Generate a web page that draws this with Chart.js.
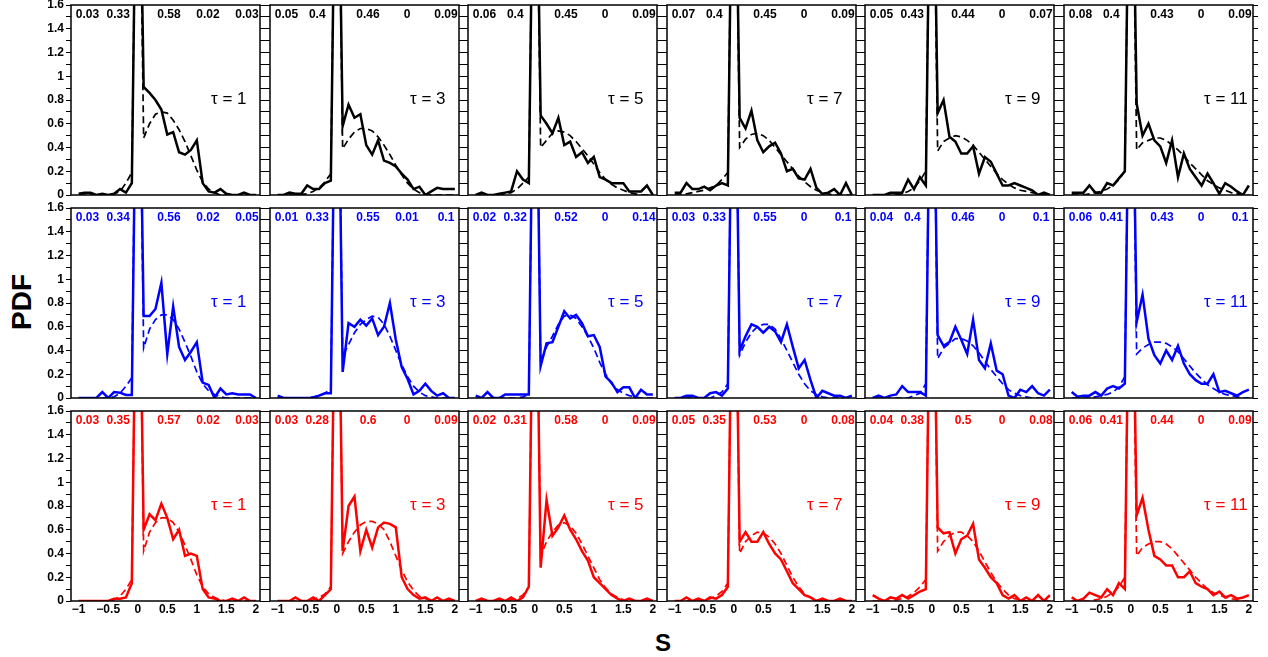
<!DOCTYPE html>
<html>
<head>
<meta charset="utf-8">
<script src="https://cdn.jsdelivr.net/npm/chart.js@4.4.1/dist/chart.umd.min.js"></script>
<style>
  html, body { margin: 0; padding: 0; background: #fff; }
  #wrap { position: relative; width: 1268px; height: 657px; overflow: hidden; font-family: 'Liberation Sans', Arial, sans-serif; }
  #wrap canvas { position: absolute; }
  .axis-title { position: absolute; font-weight: bold; color: #000; line-height: 1; white-space: nowrap; }
  #ylab { left: 22px; top: 302px; font-size: 28px; transform: translate(-50%, -50%) rotate(-90deg); }
  #xlab { left: 663px; top: 643px; font-size: 24px; transform: translate(-50%, -50%); }
</style>
</head>
<body>
<div id="wrap">
  <div class="axis-title" id="ylab">PDF</div>
  <div class="axis-title" id="xlab">S</div>
</div>
<script>
// S grid shared by every panel
const sValues = [-1, -0.9, -0.8, -0.7, -0.6, -0.5, -0.4, -0.3, -0.2, -0.1, 0,
  0.1, 0.2, 0.3, 0.4, 0.5, 0.6, 0.7, 0.8, 0.9, 1,
  1.1, 1.2, 1.3, 1.4, 1.5, 1.6, 1.7, 1.8, 1.9, 2];
const tauValues = [1, 3, 5, 7, 9, 11];

// row 1 (black): measured PDF and fitted curve
const k1 = [0.01,0.02,0.02,0,0.01,0,0.01,0.05,0.02,0.1, 4, 0.91,0.86,0.8,0.72,0.51,0.53,0.36,0.34,0.38,0.46, 0.1,0.03,0.02,0.05,0.01,0,0,0.02,0,0];
const k1fit = [0,0,0,0,0,0,0.01,0.03,0.1,0.19, 4, 0.48,0.6,0.68,0.7,0.69,0.63,0.55,0.45,0.33,0.21, 0.11,0.05,0.02,0,0,0,0,0,0,0];
const k3 = [0,0,0.02,0.01,0.01,0.08,0.05,0.05,0.1,0.12, 4, 0.58,0.76,0.65,0.68,0.42,0.34,0.46,0.29,0.27,0.24, 0.18,0.13,0.05,0.07,0,0.03,0.06,0.05,0.05,0.05];
const k3fit = [0,0,0,0,0.005,0.01,0.03,0.06,0.11,0.18, 4, 0.39,0.47,0.53,0.56,0.56,0.54,0.49,0.42,0.34,0.25, 0.17,0.1,0.05,0.02,0.01,0,0,0,0,0];
const k5 = [0,0.02,0,0,0.01,0.02,0.03,0.2,0.13,0.1, 4, 0.67,0.6,0.52,0.65,0.42,0.45,0.32,0.36,0.27,0.32, 0.15,0.13,0.1,0.1,0.1,0.03,0.03,0.03,0.08,0];
const k5fit = [0,0,0,0,0,0.01,0.02,0.05,0.1,0.15, 4, 0.4,0.46,0.52,0.54,0.53,0.5,0.45,0.39,0.33,0.26, 0.19,0.13,0.09,0.06,0.04,0.02,0.01,0,0,0];
const k7 = [0.02,0.02,0.1,0.05,0.05,0.07,0.04,0.08,0.1,0.08, 4, 0.65,0.56,0.71,0.46,0.36,0.41,0.44,0.35,0.2,0.22, 0.14,0.13,0.22,0.06,0.01,0.02,0.05,0,0.1,0];
const k7fit = [0,0,0.01,0.02,0.03,0.04,0.06,0.08,0.13,0.19, 4, 0.4,0.47,0.51,0.52,0.5,0.46,0.4,0.34,0.28,0.22, 0.16,0.11,0.07,0.04,0.02,0.01,0,0,0,0];
const k9 = [0,0,0,0.02,0.02,0.02,0.13,0.05,0.15,0.08, 4, 0.69,0.8,0.49,0.45,0.35,0.35,0.41,0.18,0.32,0.28, 0.18,0.08,0.08,0.1,0.08,0.06,0.04,0,0.02,0];
const k9fit = [0,0,0,0,0,0.01,0.03,0.06,0.12,0.2, 4, 0.37,0.45,0.48,0.5,0.49,0.46,0.42,0.36,0.3,0.24, 0.18,0.13,0.09,0.06,0.04,0.03,0.02,0.01,0,0];
const k11 = [0.02,0.02,0.02,0.08,0.02,0.02,0.1,0.08,0.14,0.2, 4, 0.77,0.5,0.6,0.46,0.41,0.27,0.46,0.15,0.35,0.22, 0.15,0.08,0.18,0.1,0.01,0.1,0.07,0.03,0,0.08];
const k11fit = [0,0,0,0.01,0.02,0.03,0.05,0.08,0.13,0.2, 4, 0.38,0.44,0.46,0.48,0.48,0.46,0.42,0.38,0.33,0.27, 0.22,0.17,0.12,0.09,0.06,0.04,0.02,0.01,0,0];

// row 2 (blue)
const b1 = [0,0,0,0,0.05,0,0.05,0.045,0.025,0.025, 4, 0.69,0.69,0.75,0.97,0.37,0.77,0.43,0.32,0.39,0.47, 0.13,0.11,0,0.08,0.03,0.04,0.03,0.03,0.03,0];
const b1fit = [0,0,0,0,0,0,0.01,0.04,0.1,0.17, 4, 0.42,0.58,0.66,0.7,0.7,0.66,0.58,0.47,0.35,0.22, 0.12,0.06,0.03,0.01,0,0,0,0,0,0];
const b3 = [0.02,0,0,0,0,0,0,0.02,0.04,0.04, 4, 0.22,0.63,0.6,0.66,0.61,0.67,0.53,0.6,0.8,0.49, 0.26,0.16,0.03,0.06,0.12,0.06,0.02,0.04,0,0];
const b3fit = [0,0,0,0,0,0,0.01,0.02,0.04,0.08, 4, 0.35,0.45,0.55,0.62,0.66,0.69,0.68,0.62,0.52,0.4, 0.28,0.18,0.1,0.05,0.02,0.01,0,0,0,0];
const b5 = [0.02,0,0.05,0,0,0.03,0.03,0.03,0.03,0.03, 4, 0.27,0.46,0.47,0.6,0.73,0.67,0.7,0.63,0.52,0.53, 0.43,0.18,0.13,0.05,0.09,0.09,0,0.07,0.03,0.03];
const b5fit = [0,0,0,0,0,0,0,0,0.01,0.03, 4, 0.3,0.43,0.52,0.62,0.69,0.7,0.67,0.6,0.52,0.42, 0.3,0.2,0.12,0.07,0.04,0.02,0.01,0,0,0];
const b7 = [0,0,0.02,0.02,0,0,0.04,0.05,0.02,0.08, 4, 0.4,0.52,0.62,0.6,0.55,0.6,0.56,0.47,0.62,0.43, 0.25,0.32,0.15,0,0.06,0.04,0.02,0.02,0,0.02];
const b7fit = [0,0,0,0,0,0,0,0.02,0.05,0.12, 4, 0.36,0.47,0.55,0.6,0.62,0.62,0.58,0.5,0.4,0.3, 0.2,0.12,0.06,0.03,0.01,0,0,0,0,0];
const b9 = [0,0.02,0,0.02,0.03,0.1,0.05,0.05,0.05,0.02, 4, 0.53,0.44,0.47,0.6,0.49,0.37,0.66,0.32,0.25,0.46, 0.23,0.2,0.02,0,0.07,0.05,0.1,0.04,0.02,0.07];
const b9fit = [0,0,0,0,0,0,0,0.02,0.04,0.12, 4, 0.33,0.42,0.46,0.5,0.5,0.48,0.44,0.38,0.31,0.24, 0.18,0.12,0.07,0.04,0.02,0.01,0,0,0,0];
const b11 = [0.05,0.01,0.02,0.02,0.05,0.02,0.08,0.1,0.08,0.12, 4, 0.64,0.87,0.5,0.36,0.29,0.4,0.32,0.44,0.29,0.2, 0.15,0.12,0.12,0.2,0.05,0.06,0.04,0.02,0.05,0.07];
const b11fit = [0,0,0,0,0.01,0.02,0.03,0.05,0.09,0.18, 4, 0.37,0.42,0.45,0.47,0.47,0.46,0.43,0.39,0.33,0.27, 0.21,0.16,0.11,0.08,0.05,0.03,0.02,0.01,0,0];

// row 3 (red)
const r1 = [0,0,0,0,0,0,0.02,0.02,0.03,0.15, 4, 0.6,0.73,0.68,0.82,0.7,0.52,0.6,0.38,0.4,0.38, 0.1,0.03,0.02,0,0,0.02,0,0.03,0,0];
const r1fit = [0,0,0,0,0,0,0.01,0.04,0.1,0.18, 4, 0.42,0.58,0.66,0.7,0.7,0.66,0.58,0.47,0.35,0.22, 0.12,0.06,0.03,0.01,0,0,0,0,0,0];
const r3 = [0,0,0,0.03,0,0,0.03,0,0.05,0.1, 4, 0.42,0.8,0.88,0.42,0.6,0.45,0.62,0.66,0.65,0.62, 0.2,0.1,0.05,0.02,0.03,0,0.03,0,0.02,0];
const r3fit = [0,0,0,0,0,0,0.01,0.03,0.06,0.12, 4, 0.4,0.5,0.58,0.64,0.67,0.67,0.65,0.6,0.5,0.38, 0.26,0.16,0.09,0.04,0.02,0.01,0,0,0,0];
const r5 = [0,0.02,0,0,0.02,0,0.03,0,0.03,0.12, 4, 0.28,0.85,0.55,0.62,0.72,0.6,0.52,0.42,0.34,0.2, 0.15,0.1,0.05,0.02,0,0.02,0,0,0.02,0];
const r5fit = [0,0,0,0,0,0,0.01,0.02,0.05,0.12, 4, 0.38,0.5,0.58,0.64,0.66,0.63,0.57,0.48,0.38,0.28, 0.18,0.11,0.06,0.03,0.01,0,0,0,0,0];
const r7 = [0,0,0.03,0,0.02,0,0.03,0.02,0.05,0.12, 4, 0.5,0.58,0.5,0.5,0.58,0.48,0.4,0.35,0.25,0.15, 0.1,0.05,0.03,0,0.02,0,0,0.02,0,0];
const r7fit = [0,0,0,0,0,0.01,0.02,0.04,0.08,0.15, 4, 0.4,0.5,0.55,0.58,0.57,0.54,0.48,0.4,0.3,0.2, 0.12,0.06,0.03,0.01,0,0,0,0,0,0];
const r9 = [0.05,0.02,0,0.03,0.02,0.05,0.02,0.05,0.08,0.1, 4, 0.62,0.57,0.58,0.4,0.52,0.55,0.65,0.35,0.28,0.2, 0.15,0.05,0.02,0.05,0,0.03,0,0.05,0,0.05];
const r9fit = [0,0,0,0,0.01,0.02,0.04,0.07,0.12,0.18, 4, 0.42,0.5,0.55,0.58,0.58,0.55,0.5,0.42,0.33,0.24, 0.16,0.1,0.05,0.02,0.01,0,0,0,0,0];
const r11 = [0.03,0,0.02,0.07,0.05,0.03,0.1,0.05,0.15,0.1, 4, 0.72,0.87,0.6,0.38,0.35,0.3,0.3,0.2,0.2,0.25, 0.15,0.12,0.1,0.05,0.08,0.03,0.05,0.02,0.03,0.05];
const r11fit = [0,0,0,0,0.01,0.02,0.04,0.07,0.12,0.2, 4, 0.38,0.45,0.48,0.5,0.5,0.48,0.44,0.38,0.32,0.26, 0.2,0.15,0.1,0.07,0.05,0.03,0.02,0.01,0,0];

// fractions printed across the top of each panel
const sharesBlack = [
  ['0.03','0.33','0.58','0.02','0.03'], ['0.05','0.4','0.46','0','0.09'], ['0.06','0.4','0.45','0','0.09'],
  ['0.07','0.4','0.45','0','0.09'], ['0.05','0.43','0.44','0','0.07'], ['0.08','0.4','0.43','0','0.09']];
const sharesBlue = [
  ['0.03','0.34','0.56','0.02','0.05'], ['0.01','0.33','0.55','0.01','0.1'], ['0.02','0.32','0.52','0','0.14'],
  ['0.03','0.33','0.55','0','0.1'], ['0.04','0.4','0.46','0','0.1'], ['0.06','0.41','0.43','0','0.1']];
const sharesRed = [
  ['0.03','0.35','0.57','0.02','0.03'], ['0.03','0.28','0.6','0','0.09'], ['0.02','0.31','0.58','0','0.09'],
  ['0.05','0.35','0.53','0','0.08'], ['0.04','0.38','0.5','0','0.08'], ['0.06','0.41','0.44','0','0.09']];

const rows = [
  { color: '#000000', solid: [k1, k3, k5, k7, k9, k11], fit: [k1fit, k3fit, k5fit, k7fit, k9fit, k11fit], shares: sharesBlack },
  { color: '#0000ff', solid: [b1, b3, b5, b7, b9, b11], fit: [b1fit, b3fit, b5fit, b7fit, b9fit, b11fit], shares: sharesBlue },
  { color: '#ff0000', solid: [r1, r3, r5, r7, r9, r11], fit: [r1fit, r3fit, r5fit, r7fit, r9fit, r11fit], shares: sharesRed }
];

// panel layout (px)
const colLeft = [71, 270, 468, 667, 865, 1064];
const rowTop = [5, 208, 411];
const panelW = 189, panelH = 190;
const padL = 44, padR = 12, padT = 14, padB = 26;
const shareAt = [-0.85, -0.33, 0.53, 1.19, 1.85];

Chart.defaults.font.family = "'Liberation Sans', Arial, sans-serif";
Chart.defaults.color = '#000';
Chart.defaults.animation = false;

const fmtNum = v => {
  const r = Math.round(v * 10) / 10;
  return r < 0 ? '\u2212' + Math.abs(r) : String(r);
};

function panelText(shares, tau, color) {
  return {
    id: 'panelText',
    afterDatasetsDraw(chart) {
      const { ctx, chartArea: a, scales: { x, y } } = chart;
      ctx.save();
      ctx.fillStyle = color;
      ctx.textBaseline = 'middle';
      ctx.textAlign = 'center';
      ctx.font = "bold 12px 'Liberation Sans', Arial, sans-serif";
      shares.forEach((t, i) => ctx.fillText(t, x.getPixelForValue(shareAt[i]), y.getPixelForValue(1.52)));
      ctx.textAlign = 'left';
      ctx.font = "17px 'Liberation Sans', Arial, sans-serif";
      ctx.fillText('\u03c4 = ' + tau, x.getPixelForValue(1.24), y.getPixelForValue(0.81));
      ctx.strokeStyle = '#000';
      ctx.lineWidth = 1.5;
      ctx.strokeRect(a.left, a.top, a.right - a.left, a.bottom - a.top);
      ctx.restore();
    }
  };
}

const wrap = document.getElementById('wrap');
rows.forEach((row, ri) => {
  tauValues.forEach((tau, ci) => {
    const cv = document.createElement('canvas');
    const w = padL + panelW + padR, h = padT + panelH + padB;
    cv.width = w; cv.height = h;
    cv.style.left = (colLeft[ci] - padL) + 'px';
    cv.style.top = (rowTop[ri] - padT) + 'px';
    cv.style.width = w + 'px'; cv.style.height = h + 'px';
    wrap.appendChild(cv);

    const tickGrid = { drawOnChartArea: false, drawTicks: true, tickLength: 5, color: '#000', lineWidth: 1 };
    new Chart(cv, {
      type: 'line',
      data: {
        datasets: [
          { data: sValues.map((s, i) => ({ x: s, y: row.solid[ci][i] })), borderColor: row.color, borderWidth: 2.5, pointRadius: 0, tension: 0, clip: 0 },
          { data: sValues.map((s, i) => ({ x: s, y: row.fit[ci][i] })), borderColor: row.color, borderWidth: 1.7, borderDash: [7, 4], pointRadius: 0, tension: 0, clip: 0 }
        ]
      },
      options: {
        responsive: false,
        devicePixelRatio: 1,
        layout: { padding: { top: padT, left: 0, right: 0, bottom: 0 } },
        plugins: { legend: { display: false }, tooltip: { enabled: false } },
        scales: {
          x: {
            type: 'linear', min: -1.13, max: 2.07,
            afterFit: s => { s.height = padB; },
            border: { display: false },
            grid: { drawOnChartArea: false, drawTicks: false },
            ticks: { stepSize: 0.5, includeBounds: false, autoSkip: false, maxRotation: 0, padding: 1,
              display: ri === 2, font: { size: 12, weight: 'bold' }, callback: v => fmtNum(v) }
          },
          y: {
            min: 0, max: 1.6,
            afterFit: s => { s.width = padL; },
            border: { display: false },
            grid: tickGrid,
            ticks: { stepSize: 0.1, autoSkip: false, padding: 2, display: ci === 0,
              font: { size: 12, weight: 'bold' },
              callback: v => (Math.round(v * 10) % 2 === 0 ? fmtNum(v) : '') }
          },
          yr: {
            position: 'right', min: 0, max: 1.6,
            afterFit: s => { s.width = padR; },
            border: { display: false },
            grid: tickGrid,
            ticks: { stepSize: 0.1, display: false }
          }
        }
      },
      plugins: [panelText(row.shares[ci], tau, row.color)]
    });
  });
});
</script>
</body>
</html>
